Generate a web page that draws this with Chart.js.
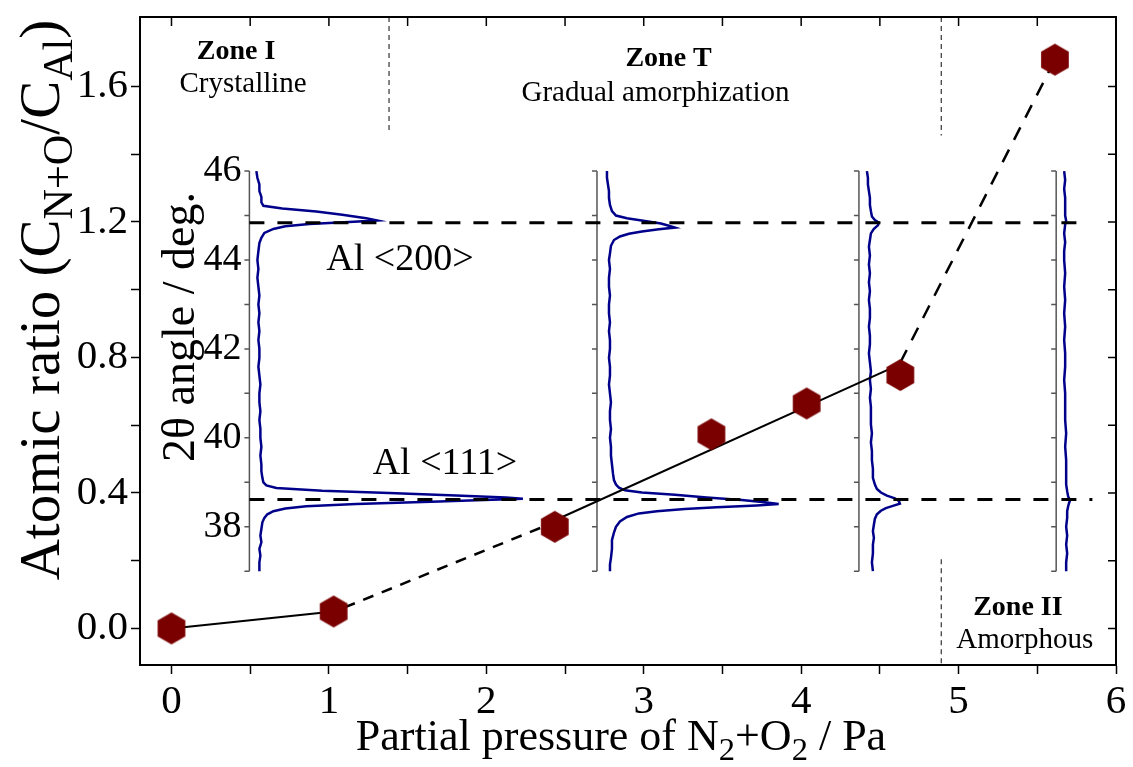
<!DOCTYPE html>
<html>
<head>
<meta charset="utf-8">
<script src="https://cdn.jsdelivr.net/npm/chart.js@4.4.1/dist/chart.umd.min.js"></script>
<style>
  html, body { margin: 0; padding: 0; background: #fff; }
  #wrap { width: 1133px; height: 767px; }
</style>
</head>
<body>
<div id="wrap"><canvas id="chart" width="1133" height="767"></canvas></div>
<script>
// measured atomic ratio vs. partial pressure
var pressure = [0, 1.03, 2.435, 3.43, 4.035, 4.63, 5.612];
var atomicRatio = [0, 0.05, 0.30, 0.573, 0.664, 0.748, 1.679];

// guide lines through the points [x, y]
var fitSolid1 = [[0, 0], [1.03, 0.05], [1.1, 0.062]];
var fitDashed1 = [[1.1, 0.062], [2.44, 0.315]];
var fitSolid2 = [[2.44, 0.32], [4.63, 0.78]];
var fitDashed2 = [[4.63, 0.785], [5.612, 1.679]];

var xTicks = [0, 0.5, 1, 1.5, 2, 2.5, 3, 3.5, 4, 4.5, 5, 5.5, 6];
var yTicks = [0, 0.2, 0.4, 0.6, 0.8, 1.0, 1.2, 1.4, 1.6];

// zone borders [x, yFrom, yTo]
var zoneLines = [[1.382, 1.805, 1.46], [4.89, 1.805, 1.455], [4.89, 0.204, -0.108]];
var zoneTitles = ['Zone I', 'Zone T', 'Zone II'];
var zoneNames = ['Crystalline', 'Gradual amorphization', 'Amorphous'];

// XRD insets: pressure where each pattern's 2theta axis sits
var insetPositions = [0.495, 2.703, 4.367, 5.620];
var thetaTicks = [37, 38, 39, 40, 41, 42, 43, 44, 45, 46];
var thetaLabels = ['', '38', '', '40', '', '42', '', '44', '', '46'];
var peakAngles = [44.84, 38.61];
var peakEnds = [5.77, 5.85];
var peakNames = ['Al <200>', 'Al <111>'];

// XRD patterns [2theta, intensity a.u.]
var xrd1 = [[46.0,7],[45.85,8],[45.7,10],[45.55,10],[45.42,12],[45.3,12],[45.22,14],[45.16,33],[45.09,67],[45.02,93],[44.94,117],[44.89,128],[44.85,95],[44.81,60],[44.76,36],[44.70,24],[44.61,15],[44.5,12],[44.38,10],[44.2,9],[44.0,8],[43.8,9],[43.6,8],[43.4,9],[43.2,10],[43.0,9],[42.8,10],[42.6,9],[42.4,10],[42.2,9],[42.0,10],[41.8,10],[41.6,9],[41.4,10],[41.2,11],[41.0,10],[40.8,10],[40.6,11],[40.4,10],[40.2,11],[40.0,11],[39.8,12],[39.6,11],[39.4,12],[39.25,12],[39.1,13],[39.0,14],[38.93,17],[38.87,27],[38.81,73],[38.76,140],[38.70,207],[38.66,257],[38.63,274],[38.60,235],[38.57,190],[38.51,107],[38.46,57],[38.41,36],[38.35,24],[38.28,18],[38.2,15],[38.1,13],[37.95,12],[37.8,11],[37.65,12],[37.5,10],[37.35,11],[37.2,10],[37.0,10]];
var xrd2 = [[46.0,10],[45.85,10],[45.7,11],[45.55,12],[45.4,12],[45.24,13],[45.1,15],[45.0,19],[44.94,30],[44.88,48],[44.82,64],[44.77,72],[44.73,78],[44.69,62],[44.64,45],[44.59,32],[44.53,23],[44.45,17],[44.32,14],[44.15,13],[44.0,12],[43.8,13],[43.6,12],[43.4,12],[43.2,13],[43.0,12],[42.8,12],[42.6,13],[42.4,12],[42.2,13],[42.0,13],[41.8,12],[41.6,13],[41.4,13],[41.2,12],[41.0,13],[40.8,14],[40.6,13],[40.4,13],[40.2,14],[40.0,13],[39.8,14],[39.6,14],[39.4,15],[39.2,16],[39.05,17],[38.95,19],[38.88,22],[38.82,28],[38.77,45],[38.72,78],[38.66,110],[38.6,145],[38.55,168],[38.51,182],[38.48,160],[38.44,120],[38.4,88],[38.35,60],[38.3,42],[38.22,30],[38.12,23],[38.0,19],[37.87,17],[37.7,15],[37.5,15],[37.3,14],[37.15,13],[37.0,13]];
var xrd3 = [[46.0,8],[45.85,9],[45.7,9],[45.55,10],[45.4,11],[45.24,11],[45.1,12],[44.98,13],[44.9,16],[44.84,20],[44.78,19],[44.7,15],[44.6,12],[44.45,11],[44.3,10],[44.1,11],[43.9,10],[43.7,11],[43.5,10],[43.3,11],[43.1,10],[42.9,11],[42.7,11],[42.5,10],[42.3,11],[42.1,11],[41.9,10],[41.7,11],[41.5,12],[41.3,11],[41.1,12],[40.9,11],[40.7,12],[40.5,12],[40.3,12],[40.1,13],[39.9,12],[39.7,13],[39.5,13],[39.3,14],[39.1,14],[38.95,16],[38.85,18],[38.77,22],[38.7,28],[38.64,36],[38.58,40],[38.52,41],[38.47,34],[38.42,27],[38.36,22],[38.28,18],[38.18,16],[38.05,15],[37.9,14],[37.75,15],[37.6,14],[37.4,14],[37.2,13],[37.0,14]];
var xrd4 = [[46.0,8],[45.8,9],[45.6,8],[45.4,9],[45.2,9],[45.0,9],[44.88,10],[44.8,9],[44.6,8],[44.4,9],[44.2,8],[44.0,8],[43.7,9],[43.4,8],[43.1,9],[42.8,8],[42.5,9],[42.2,8],[41.9,9],[41.6,9],[41.3,8],[41.0,9],[40.7,9],[40.4,9],[40.1,10],[39.8,9],[39.5,10],[39.2,10],[38.95,10],[38.8,11],[38.68,12],[38.6,14],[38.54,13],[38.46,12],[38.35,11],[38.2,11],[38.0,10],[37.8,11],[37.6,10],[37.4,11],[37.2,10],[37.0,10]];

var X_MIN = -0.2, X_MAX = 6, Y_MIN = -0.108, Y_MAX = 1.805;
var COUNT_TO_X = 1 / 157.7;       // intensity units -> pressure axis units
var INSET_Y = [0.169, 1.35];      // ratio values where 37 and 46 deg sit
var thetaPerRatio = (46 - 37) / (INSET_Y[1] - INSET_Y[0]);

var FONT = '"Liberation Serif", "Times New Roman", serif';
var BLUE = '#00008b';

function pts(arr) { return arr.map(function (p) { return {x: p[0], y: p[1]}; }); }

function hexagon(r, color) {
  var c = document.createElement('canvas');
  var w = Math.ceil(r * Math.sqrt(3)) + 2, h = Math.ceil(2 * r) + 2;
  c.width = w; c.height = h;
  var g = c.getContext('2d');
  g.beginPath();
  for (var i = 0; i < 6; i++) {
    var a = Math.PI / 2 + i * Math.PI / 3;
    var px = w / 2 + r * Math.cos(a), py = h / 2 + r * Math.sin(a);
    if (i) g.lineTo(px, py); else g.moveTo(px, py);
  }
  g.closePath();
  g.fillStyle = color;
  g.fill();
  return c;
}

var datasets = [];

datasets.push({
  data: pressure.map(function (p, i) { return {x: p, y: atomicRatio[i]}; }),
  pointStyle: hexagon(16, '#7a0000'), pointRadius: 16, showLine: false, order: 0
});
[[fitSolid1, []], [fitDashed1, [11, 9]], [fitSolid2, []], [fitDashed2, [14, 11]]].forEach(function (f) {
  datasets.push({
    data: pts(f[0]), showLine: true, borderColor: '#000', borderWidth: f[1].length ? 2.5 : 2,
    borderDash: f[1], pointRadius: 0, order: 1
  });
});
peakAngles.forEach(function (a, i) {
  datasets.push({
    data: [{x: insetPositions[0], y: a}, {x: peakEnds[i], y: a}], yAxisID: 'y2',
    showLine: true, borderColor: '#000', borderWidth: 3, borderDash: [15, 13], pointRadius: 0, order: 2
  });
});
[xrd1, xrd2, xrd3, xrd4].forEach(function (xrd, i) {
  var base = insetPositions[i];
  datasets.push({
    data: xrd.map(function (p) { return {x: base + p[1] * COUNT_TO_X, y: p[0]}; }), yAxisID: 'y2',
    showLine: true, borderColor: BLUE, borderWidth: 2.5, pointRadius: 0, order: 3
  });
  datasets.push({
    data: [{x: base, y: thetaTicks[0]}, {x: base, y: thetaTicks[thetaTicks.length - 1]}], yAxisID: 'y2',
    showLine: true, borderColor: '#555', borderWidth: 1.5, pointRadius: 0, order: 4
  });
});
zoneLines.forEach(function (z) {
  datasets.push({
    data: [{x: z[0], y: z[1]}, {x: z[0], y: z[2]}], showLine: true, borderColor: '#333',
    borderWidth: 1.2, borderDash: [5, 4], pointRadius: 0, order: 5
  });
});

function richText(ctx, parts, x, y, size, align) {
  var sub = size * 0.74, w = 0;
  parts.forEach(function (p) {
    ctx.font = (p[1] ? sub : size) + 'px ' + FONT;
    w += ctx.measureText(p[0]).width;
  });
  var cx = align === 'center' ? x - w / 2 : x;
  ctx.textAlign = 'left';
  ctx.textBaseline = 'alphabetic';
  parts.forEach(function (p) {
    ctx.font = (p[1] ? sub : size) + 'px ' + FONT;
    ctx.fillText(p[0], cx, p[1] ? y + size * 0.22 : y);
    cx += ctx.measureText(p[0]).width;
  });
}

var decorations = {
  id: 'decorations',
  afterDraw: function (chart) {
    var ctx = chart.ctx, a = chart.chartArea;
    var xs = chart.scales.x, ys = chart.scales.y, y2 = chart.scales.y2;
    ctx.save();
    // frame top/right with inward ticks
    ctx.strokeStyle = '#000';
    ctx.lineWidth = 2;
    ctx.beginPath();
    ctx.moveTo(a.left, a.top); ctx.lineTo(a.right, a.top); ctx.lineTo(a.right, a.bottom);
    ctx.stroke();
    ctx.lineWidth = 1.5;
    ctx.beginPath();
    xTicks.forEach(function (v) {
      var px = xs.getPixelForValue(v);
      ctx.moveTo(px, a.top); ctx.lineTo(px, a.top + 9);
    });
    yTicks.forEach(function (v) {
      var py = ys.getPixelForValue(v);
      ctx.moveTo(a.right, py); ctx.lineTo(a.right - 8, py);
    });
    ctx.stroke();

    // inset 2theta axes
    ctx.strokeStyle = '#555';
    ctx.lineWidth = 1.5;
    ctx.fillStyle = '#000';
    insetPositions.forEach(function (p, i) {
      var px = xs.getPixelForValue(p);
      ctx.beginPath();
      thetaTicks.forEach(function (t) {
        var py = y2.getPixelForValue(t);
        ctx.moveTo(px - 5, py); ctx.lineTo(px, py);
      });
      ctx.stroke();
      if (i === 0) {
        ctx.font = '38px ' + FONT;
        ctx.textAlign = 'right';
        ctx.textBaseline = 'middle';
        thetaTicks.forEach(function (t, k) {
          if (thetaLabels[k]) ctx.fillText(thetaLabels[k], px - 8, y2.getPixelForValue(t));
        });
      }
    });

    // peak names
    ctx.font = '38px ' + FONT;
    ctx.textAlign = 'center';
    ctx.textBaseline = 'alphabetic';
    ctx.fillText(peakNames[0], xs.getPixelForValue(1.451), ys.getPixelForValue(1.058));
    ctx.fillText(peakNames[1], xs.getPixelForValue(1.737), ys.getPixelForValue(0.455));

    // zone labels
    var zonePos = [[0.41, 1.682, 0.455, 1.585], [3.158, 1.661, 3.075, 1.556], [5.377, 0.041, 5.42, -0.058]];
    zonePos.forEach(function (z, i) {
      ctx.font = 'bold 28px ' + FONT;
      ctx.fillText(zoneTitles[i], xs.getPixelForValue(z[0]), ys.getPixelForValue(z[1]));
      ctx.font = '29px ' + FONT;
      ctx.fillText(zoneNames[i], xs.getPixelForValue(z[2]), ys.getPixelForValue(z[3]));
    });

    // axis titles
    richText(ctx, [['Partial pressure of N'], ['2', 1], ['+O'], ['2', 1], [' / Pa']], 621, 750, 44, 'center');
    ctx.save();
    ctx.translate(59, 300);
    ctx.rotate(-Math.PI / 2);
    richText(ctx, [['Atomic ratio (C'], ['N+O', 1], ['/C'], ['Al', 1], [')']], 0, 0, 57, 'center');
    ctx.restore();
    ctx.save();
    ctx.translate(194, 327);
    ctx.rotate(-Math.PI / 2);
    richText(ctx, [['2\u03b8 angle / deg.']], 0, 0, 46, 'center');
    ctx.restore();
    ctx.restore();
  }
};

new Chart(document.getElementById('chart'), {
  type: 'scatter',
  data: {datasets: datasets},
  plugins: [decorations],
  options: {
    responsive: false,
    animation: false,
    layout: {padding: {top: 10, right: 15, left: 0, bottom: 0}},
    plugins: {legend: {display: false}, tooltip: {enabled: false}},
    scales: {
      x: {
        type: 'linear', position: 'bottom', min: X_MIN, max: X_MAX,
        afterBuildTicks: function (s) { s.ticks = xTicks.map(function (v) { return {value: v}; }); },
        afterFit: function (s) { s.height = 102; s.paddingLeft = 0; s.paddingRight = 0; },
        ticks: {
          autoSkip: false, maxRotation: 0, padding: 4, color: '#000', font: {family: FONT, size: 41},
          callback: function (v) { return Number.isInteger(v) ? String(v) : ''; }
        },
        grid: {drawOnChartArea: false, drawTicks: true, tickLength: 9, tickColor: '#000', tickWidth: 1.5},
        border: {color: '#000', width: 2}
      },
      y: {
        type: 'linear', position: 'left', min: Y_MIN, max: Y_MAX,
        afterBuildTicks: function (s) { s.ticks = yTicks.map(function (v) { return {value: v}; }); },
        afterFit: function (s) { s.width = 140; s.paddingTop = 0; s.paddingBottom = 0; },
        ticks: {
          autoSkip: false, padding: 3, color: '#000', font: {family: FONT, size: 41},
          callback: function (v) { return Math.round(v * 10) % 4 === 0 ? v.toFixed(1) : ''; }
        },
        grid: {drawOnChartArea: false, drawTicks: true, tickLength: 9, tickColor: '#000', tickWidth: 1.5},
        border: {color: '#000', width: 2}
      },
      y2: {
        type: 'linear', position: 'left', display: false,
        min: 37 + (Y_MIN - INSET_Y[0]) * thetaPerRatio,
        max: 37 + (Y_MAX - INSET_Y[0]) * thetaPerRatio
      }
    }
  }
});
</script>
</body>
</html>
